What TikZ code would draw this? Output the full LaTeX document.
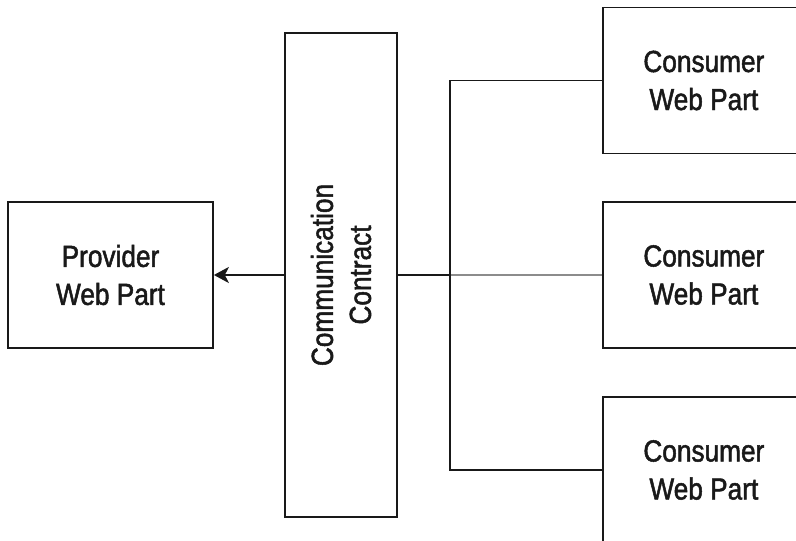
\documentclass[tikz,border=0pt]{standalone}
\usepackage{fontspec}
\setmainfont[FakeStretch=0.86,FakeBold=1.6]{Liberation Sans}
\usepackage{tikz}
\usetikzlibrary{arrows.meta,positioning}
\tikzset{
  >={Stealth[length=15pt,width=16pt,inset=4pt]},
  partbox/.style={draw=black!90,line width=1.7pt,align=center,inner sep=2pt,
    font=\fontsize{30.5}{38}\selectfont,text=black!90},
  wire/.style={line width=1.7pt,black!90},
  greywire/.style={line width=1.7pt,black!45},
}

\begin{document}
\begin{tikzpicture}[x=1pt,y=-1pt]
  \useasboundingbox (0,0) rectangle (796,541);
  \clip (0,0) rectangle (796,541);
  \node[partbox,minimum width=205pt,minimum height=146pt] (provider) at (110.5,275)
        {Provider\\Web Part};
  \node[partbox,minimum width=112pt,minimum height=484pt] (contract) at (341,275)
        {};
  \node[rotate=90,align=center,font=\fontsize{30.5}{38}\selectfont,text=black!90]
        (contractlbl) at (contract.center) {Communication\\Contract};
  \foreach \i/\y in {1/80.5,2/275,3/470}{
    \node[partbox,anchor=west,minimum width=202pt,minimum height=146pt]
          (cons\i) at (602,\y) {Consumer\\Web Part};
  }
  \coordinate (hub) at (450,275);
  \draw[wire,->] (contract.west) -- (provider.east);
  \draw[greywire] (hub) -- (cons2.west);
  \draw[wire] (contract.east) -- (hub);
  \draw[wire] (cons1.west) -| (hub) |- (cons3.west);
\end{tikzpicture}
\end{document}
